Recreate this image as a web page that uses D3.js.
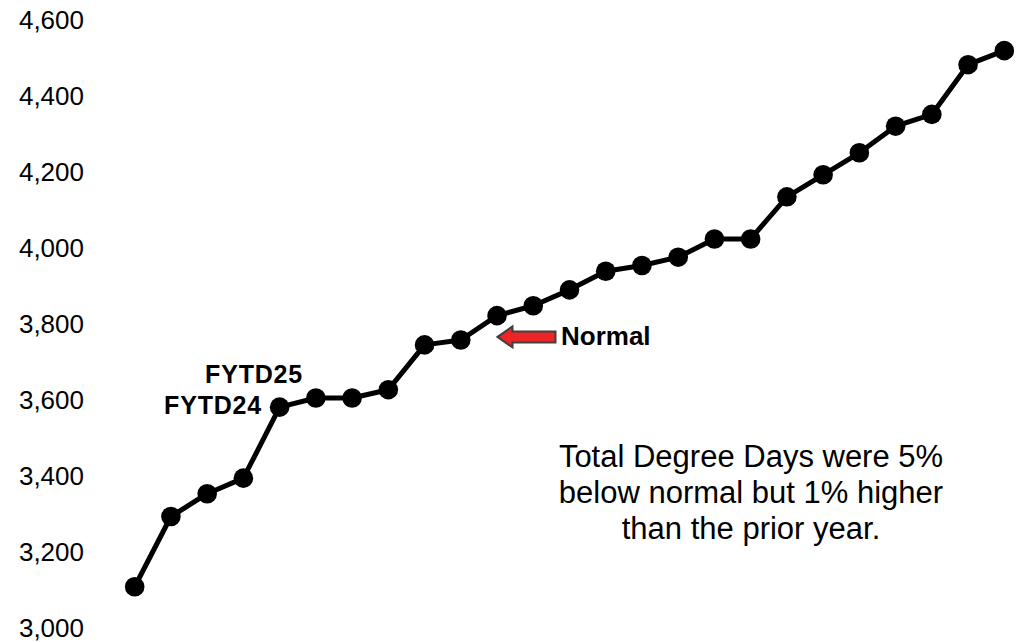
<!DOCTYPE html>
<html>
<head>
<meta charset="utf-8">
<script src="https://cdn.jsdelivr.net/npm/d3@7"></script>
<style>
  html, body { margin: 0; padding: 0; background: #fff; }
  svg { display: block; font-family: "Liberation Sans", Arial, sans-serif; }
</style>
</head>
<body>
<svg id="chart" width="1030" height="642"></svg>
<script>
// Cumulative degree days, one value per period
const periods = ["1","2","3","4","5","6","7","8","9","10","11","12","13",
                 "14","15","16","17","18","19","20","21","22","23","24","25"];
const degreeDays = [3106, 3291, 3351, 3392, 3579, 3603, 3603, 3625, 3743, 3756,
                    3820, 3846, 3888, 3937, 3952, 3974, 4022, 4022, 4133, 4191,
                    4249, 4319, 4350, 4481, 4518];
const yTicks = [3000, 3200, 3400, 3600, 3800, 4000, 4200, 4400, 4600];
const normalValue = 3764;
const noteLines = ["Total Degree Days were 5%", "below normal but 1% higher", "than the prior year."];

const svg = d3.select("#chart");

const x = d3.scalePoint().domain(periods).range([134.7, 1004.3]);
const y = d3.scaleLinear().domain([3000, 4600]).range([627, 19.5]);

// Y axis: labels only, no domain line or tick marks
const yAxis = d3.axisLeft(y)
  .tickValues(yTicks)
  .tickFormat(d3.format(","))
  .tickSize(0)
  .tickPadding(0);

svg.append("g")
  .attr("transform", "translate(84,0)")
  .call(yAxis)
  .call(g => g.select(".domain").remove())
  .call(g => g.selectAll("text")
    .attr("font-family", "'Liberation Sans', Arial, sans-serif")
    .attr("font-size", 26)
    .attr("fill", "#000")
    .attr("dy", "0.36em"));

// Series line
const line = d3.line()
  .x((d, i) => x(periods[i]))
  .y(d => y(d));

svg.append("path")
  .datum(degreeDays)
  .attr("fill", "none")
  .attr("stroke", "#000")
  .attr("stroke-width", 5)
  .attr("stroke-linejoin", "round")
  .attr("d", line);

svg.append("g")
  .selectAll("circle")
  .data(degreeDays)
  .join("circle")
  .attr("cx", (d, i) => x(periods[i]))
  .attr("cy", d => y(d))
  .attr("r", 9.8)
  .attr("fill", "#000");

// Series labels
svg.append("text")
  .attr("x", 303).attr("y", 382.5)
  .attr("text-anchor", "end")
  .attr("font-weight", "bold")
  .attr("font-size", 25)
  .attr("letter-spacing", 0.8)
  .attr("fill", "#000")
  .text("FYTD25");

svg.append("text")
  .attr("x", 262).attr("y", 413.5)
  .attr("text-anchor", "end")
  .attr("font-weight", "bold")
  .attr("font-size", 25)
  .attr("letter-spacing", 0.8)
  .attr("fill", "#000")
  .text("FYTD24");

// Normal marker arrow
const ny = y(normalValue);
const tipX = 497.5, headX = 512.5, tailX = 555.5;
const arrowPts = [
  [tipX, ny],
  [headX, ny - 10.5],
  [headX, ny - 5.5],
  [tailX, ny - 5.5],
  [tailX, ny + 5.5],
  [headX, ny + 5.5],
  [headX, ny + 10.5]
];
svg.append("path")
  .attr("d", d3.line()(arrowPts) + "Z")
  .attr("fill", "#EE2526")
  .attr("stroke", "#404040")
  .attr("stroke-width", 2)
  .attr("stroke-linejoin", "miter");

svg.append("text")
  .attr("x", 561).attr("y", ny + 8)
  .attr("font-weight", "bold")
  .attr("font-size", 26)
  .attr("fill", "#000")
  .text("Normal");

// Summary note
svg.append("g")
  .selectAll("text")
  .data(noteLines)
  .join("text")
  .attr("x", 751)
  .attr("y", (d, i) => 466.5 + i * 36)
  .attr("text-anchor", "middle")
  .attr("font-size", 31)
  .attr("fill", "#000")
  .text(d => d);
</script>
</body>
</html>
